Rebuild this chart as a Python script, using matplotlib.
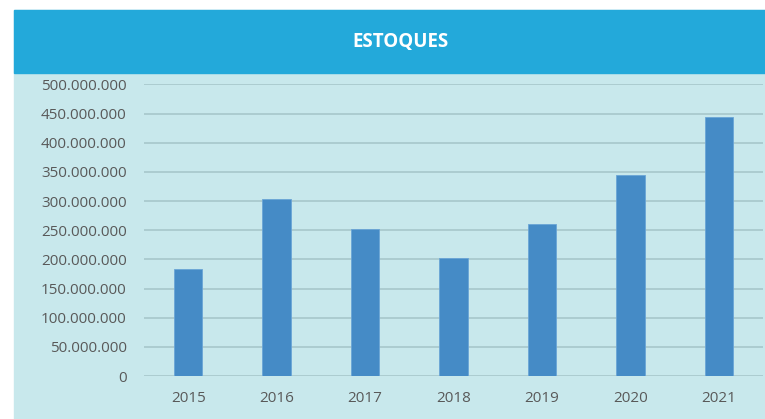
#!/usr/bin/env python3
"""
Estoques por ano - grafico de barras
"""

import matplotlib
matplotlib.use('Agg')
import matplotlib.pyplot as plt
from matplotlib.patches import Rectangle
from matplotlib.ticker import FuncFormatter

years = ['2015', '2016', '2017', '2018', '2019', '2020', '2021']
estoques = [182.8e6, 303.4e6, 251.5e6, 202.0e6, 261.0e6, 344.3e6, 443.8e6]
y_ticks = [i * 50e6 for i in range(11)]

W, H = 765, 419
fig = plt.figure(figsize=(W / 100, H / 100), dpi=100)
fig.patch.set_facecolor('white')

# background panel and header band
fig.patches.append(Rectangle((14 / W, 0), 1 - 14 / W, 1 - 10 / H,
                             transform=fig.transFigure, color='#C8E8EC',
                             zorder=-10))
fig.patches.append(Rectangle((14 / W, 1 - 73 / H), 1 - 14 / W, 63 / H,
                             transform=fig.transFigure, color='#23A9DA',
                             zorder=-10))
fig.text(401 / W, 1 - 42.5 / H, 'ESTOQUES', color='white', fontsize=13.5,
         fontweight='bold', family='Open Sans', ha='center', va='center')

ax = fig.add_axes([144 / W, 1 - 376 / H, (763 - 144) / W, (376 - 84.5) / H])
ax.set_facecolor('none')
x = range(len(years))
ax.bar(x, estoques, width=0.32, color='#458BC6', edgecolor='#6AA5D6',
       linewidth=0.6, zorder=3)

ax.set_xlim(-0.5, len(years) - 0.5)
ax.set_ylim(0, 500e6)
ax.set_yticks(y_ticks)
ax.yaxis.set_major_formatter(
    FuncFormatter(lambda v, p: '{:,.0f}'.format(v).replace(',', '.')))
ax.set_xticks(list(x))
ax.set_xticklabels(years)
ax.grid(axis='y', color='#A9CACE', linewidth=1.3, zorder=1)
ax.tick_params(length=0, labelsize=11, labelcolor='#595959')
ax.tick_params(axis='y', pad=12.5)
ax.tick_params(axis='x', pad=11)
for lab in ax.get_xticklabels() + ax.get_yticklabels():
    lab.set_family('Open Sans')
for s in ax.spines.values():
    s.set_visible(False)

plt.savefig('out.png', dpi=100)
